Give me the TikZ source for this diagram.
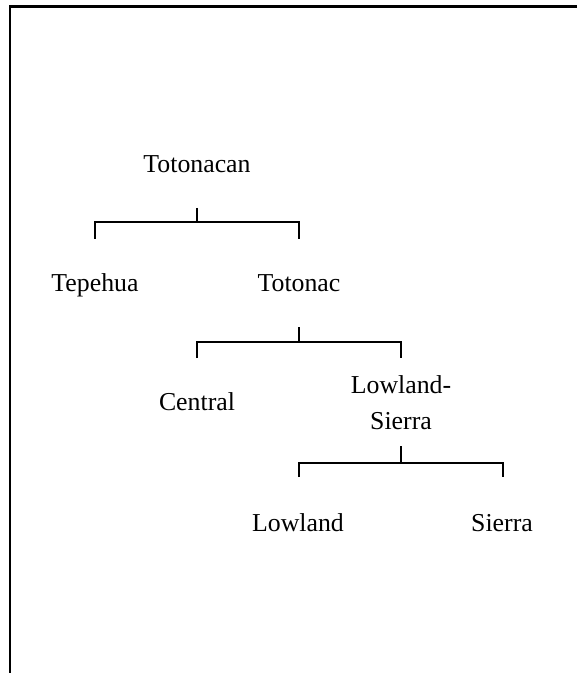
\documentclass[tikz,border=0pt]{standalone}
\usepackage{fontspec}
\setmainfont{Liberation Serif}
\usetikzlibrary{positioning}
\tikzset{lang/.style={font=\fontsize{12.9}{18}\selectfont, inner sep=0pt, anchor=base, align=center}}

\begin{document}
\begin{tikzpicture}[x=0.5pt, y=-0.5pt, line width=1.2pt]
		\useasboundingbox (0,0) rectangle (577,673);
		\draw (577,6.5) -- (10,6.5) -- (10,673);
		% family nodes
		\node[lang] (totonacan) at (197,173) {Totonacan};
		\node[lang] (tepehua) at (95,292) {Tepehua};
		\node[lang] (totonac) at (299,292) {Totonac};
		\node[lang] (central) at (197,410) {Central};
		\node[lang] (lowsierra) at (401,429) {Lowland-\\Sierra};
		\node[lang] (lowland) at (298,531) {Lowland};
		\node[lang] (sierra) at (502,531) {Sierra};
		% brackets
		\coordinate (t1) at (197,208); \coordinate (j1) at (197,222);
		\coordinate (l1) at (95,239);  \coordinate (r1) at (299,239);
		\draw (t1)--(j1); \draw (l1) |- (j1) -| (r1);
		\coordinate (t2) at (299,327); \coordinate (j2) at (299,342);
		\coordinate (l2) at (197,358); \coordinate (r2) at (401,358);
		\draw (t2)--(j2); \draw (l2) |- (j2) -| (r2);
		\coordinate (t3) at (401,446); \coordinate (j3) at (401,463);
		\coordinate (l3) at (299,477); \coordinate (r3) at (503,477);
		\draw (t3)--(j3); \draw (l3) |- (j3) -| (r3);
		\end{tikzpicture}
\end{document}
